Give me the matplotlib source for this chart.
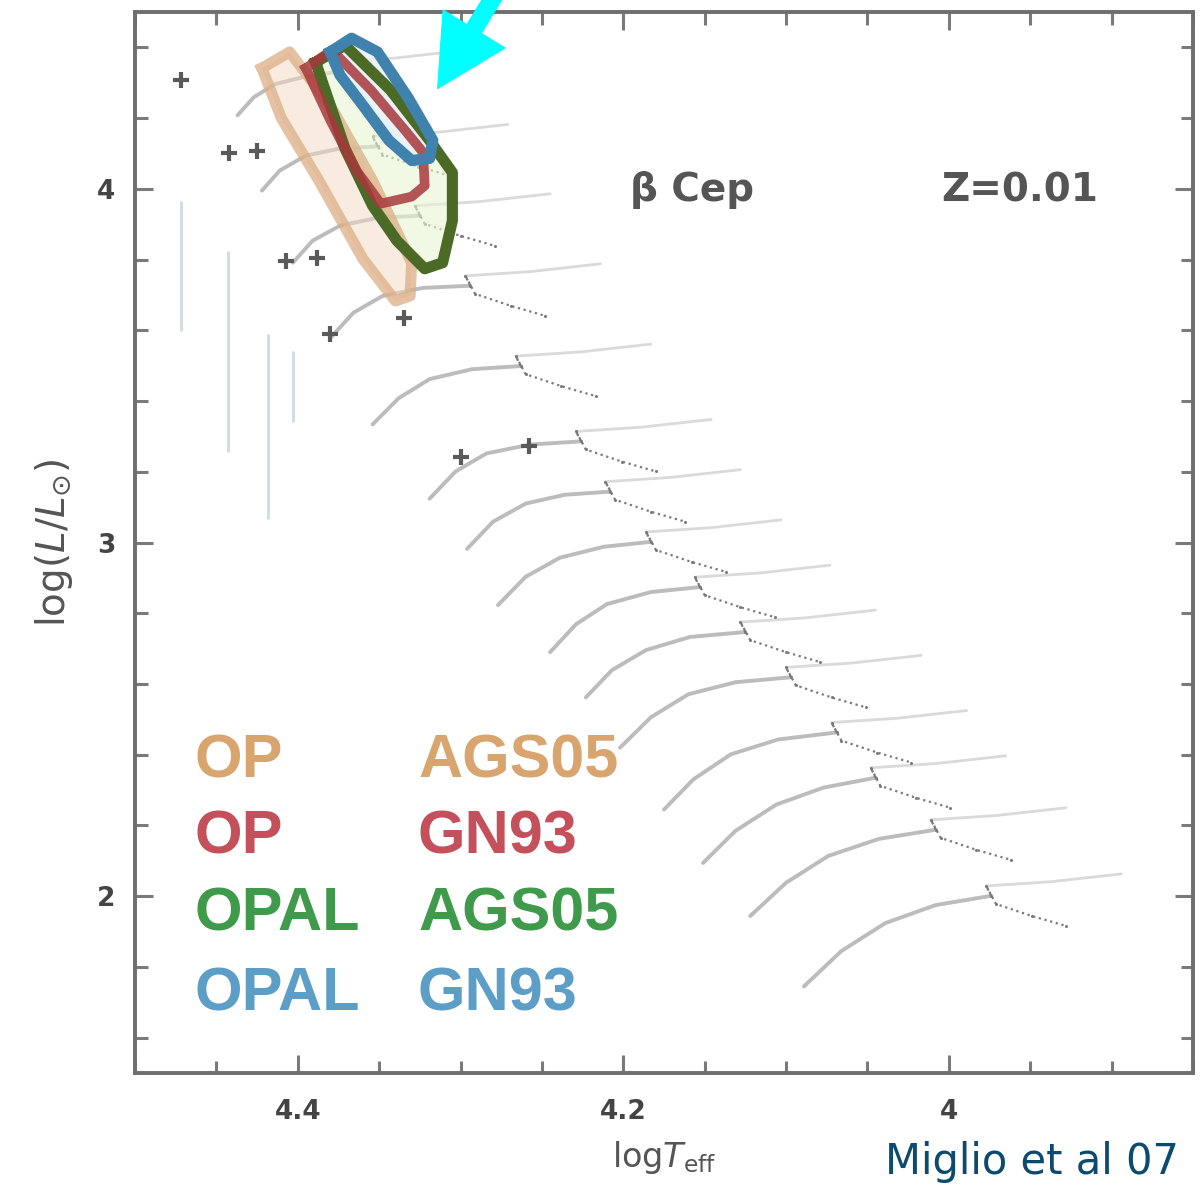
import matplotlib
matplotlib.use("Agg")
import matplotlib.pyplot as plt
from matplotlib.ticker import FixedLocator, FixedFormatter, MultipleLocator

# ---------------------------------------------------------------------------
# Evolutionary tracks (log Teff, log L/Lsun), Z = 0.01
# main-sequence part, from the ZAMS to the end of core H burning
ms_logT = [
    [4.089, 4.066, 4.039, 4.008, 3.974],
    [4.122, 4.100, 4.074, 4.043, 4.008],
    [4.151, 4.131, 4.106, 4.077, 4.045],
    [4.175, 4.157, 4.134, 4.105, 4.069],
    [4.202, 4.183, 4.160, 4.131, 4.097],
    [4.223, 4.207, 4.186, 4.159, 4.125],
    [4.245, 4.229, 4.210, 4.183, 4.153],
    [4.277, 4.260, 4.239, 4.212, 4.183],
    [4.296, 4.280, 4.260, 4.236, 4.208],
    [4.319, 4.303, 4.284, 4.257, 4.226],
    [4.354, 4.338, 4.319, 4.293, 4.263],
    [4.380, 4.366, 4.348, 4.323, 4.294],
    [4.403, 4.391, 4.374, 4.351, 4.325],
    [4.422, 4.411, 4.395, 4.374, 4.351],
    [4.437, 4.427, 4.414, 4.395, 4.377],
]
ms_logL = [
    [1.745, 1.845, 1.924, 1.975, 2.001],
    [1.944, 2.038, 2.114, 2.162, 2.188],
    [2.094, 2.185, 2.259, 2.307, 2.335],
    [2.245, 2.330, 2.401, 2.443, 2.463],
    [2.420, 2.506, 2.571, 2.605, 2.619],
    [2.562, 2.639, 2.696, 2.733, 2.747],
    [2.690, 2.769, 2.826, 2.860, 2.874],
    [2.823, 2.903, 2.957, 2.988, 3.002],
    [2.982, 3.059, 3.110, 3.135, 3.144],
    [3.124, 3.201, 3.252, 3.277, 3.286],
    [3.334, 3.408, 3.462, 3.490, 3.499],
    [3.578, 3.649, 3.697, 3.720, 3.726],
    [3.791, 3.853, 3.896, 3.918, 3.924],
    [3.995, 4.052, 4.094, 4.114, 4.120],
    [4.208, 4.259, 4.296, 4.318, 4.330],
]

# hook at the end of the main sequence (sparse model points)
hook_logT = [
    [3.974, 3.977, 3.971, 3.949, 3.928],
    [4.008, 4.011, 4.005, 3.983, 3.962],
    [4.045, 4.048, 4.042, 4.020, 3.999],
    [4.069, 4.072, 4.066, 4.044, 4.023],
    [4.097, 4.100, 4.094, 4.072, 4.051],
    [4.125, 4.128, 4.122, 4.100, 4.079],
    [4.153, 4.156, 4.150, 4.128, 4.107],
    [4.183, 4.186, 4.180, 4.158, 4.137],
    [4.208, 4.211, 4.205, 4.183, 4.162],
    [4.226, 4.229, 4.223, 4.201, 4.180],
    [4.263, 4.266, 4.260, 4.238, 4.217],
    [4.294, 4.297, 4.291, 4.269, 4.248],
    [4.325, 4.328, 4.322, 4.300, 4.279],
    [4.351, 4.354, 4.348, 4.326, 4.305],
    [4.377, 4.380, 4.374, 4.352, 4.331],
]
hook_logL = [
    [2.001, 2.029, 1.978, 1.944, 1.916],
    [2.188, 2.216, 2.165, 2.131, 2.103],
    [2.335, 2.363, 2.312, 2.278, 2.250],
    [2.463, 2.491, 2.440, 2.406, 2.378],
    [2.619, 2.647, 2.596, 2.562, 2.534],
    [2.747, 2.775, 2.724, 2.690, 2.662],
    [2.874, 2.902, 2.851, 2.817, 2.789],
    [3.002, 3.030, 2.979, 2.945, 2.917],
    [3.144, 3.172, 3.121, 3.087, 3.059],
    [3.286, 3.314, 3.263, 3.229, 3.201],
    [3.499, 3.527, 3.476, 3.442, 3.414],
    [3.726, 3.754, 3.703, 3.669, 3.641],
    [3.924, 3.952, 3.901, 3.867, 3.839],
    [4.120, 4.148, 4.097, 4.063, 4.035],
    [4.330, 4.358, 4.307, 4.273, 4.245],
]

# post-main-sequence crossing
post_logT = [
    [3.977, 3.937, 3.894],
    [4.011, 3.971, 3.928],
    [4.048, 4.008, 3.965],
    [4.072, 4.032, 3.989],
    [4.100, 4.060, 4.017],
    [4.128, 4.088, 4.045],
    [4.156, 4.116, 4.073],
    [4.186, 4.146, 4.103],
    [4.211, 4.171, 4.128],
    [4.229, 4.189, 4.146],
    [4.266, 4.226, 4.183],
    [4.297, 4.257, 4.214],
    [4.328, 4.288, 4.245],
    [4.354, 4.314, 4.271],
    [4.380, 4.340, 4.297],
]
post_logL = [
    [2.029, 2.041, 2.063],
    [2.216, 2.228, 2.250],
    [2.363, 2.375, 2.397],
    [2.491, 2.503, 2.525],
    [2.647, 2.659, 2.681],
    [2.775, 2.787, 2.809],
    [2.902, 2.914, 2.936],
    [3.030, 3.042, 3.064],
    [3.172, 3.184, 3.206],
    [3.314, 3.326, 3.348],
    [3.527, 3.539, 3.561],
    [3.754, 3.766, 3.788],
    [3.952, 3.964, 3.986],
    [4.148, 4.160, 4.182],
    [4.358, 4.370, 4.392],
]

# observed beta Cep stars
star_logT = [4.472, 4.442, 4.425, 4.407, 4.388, 4.380, 4.335, 4.300, 4.258]
star_logL = [4.307, 4.100, 4.108, 3.796, 3.805, 3.589, 3.635, 3.243, 3.272]

# luminosity uncertainty bars
bar_logT = [4.472, 4.443, 4.418, 4.403]
bar_logL_low = [3.598, 3.257, 3.067, 3.342]
bar_logL_high = [3.967, 3.825, 3.589, 3.541]

# beta Cep instability domains for the four opacity / mixture combinations
op_ags05_T = [4.422, 4.405, 4.380, 4.354, 4.330, 4.331, 4.340, 4.360, 4.387, 4.410, 4.422]
op_ags05_L = [4.341, 4.387, 4.236, 4.023, 3.791, 3.697, 3.683, 3.802, 4.023, 4.199, 4.341]
op_gn93_T = [4.395, 4.379, 4.355, 4.334, 4.323, 4.322, 4.330, 4.349, 4.364, 4.380, 4.395]
op_gn93_L = [4.341, 4.392, 4.279, 4.165, 4.103, 4.009, 3.978, 3.958, 4.052, 4.194, 4.341]
opal_ags05_T = [4.389, 4.371, 4.343, 4.319, 4.305, 4.305, 4.311, 4.322, 4.339, 4.354, 4.371, 4.389]
opal_ags05_L = [4.358, 4.406, 4.279, 4.137, 4.046, 3.910, 3.791, 3.774, 3.853, 3.952, 4.114, 4.358]
opal_gn93_T = [4.380, 4.367, 4.351, 4.332, 4.317, 4.319, 4.330, 4.344, 4.360, 4.374, 4.380]
opal_gn93_L = [4.387, 4.426, 4.387, 4.256, 4.137, 4.086, 4.080, 4.137, 4.236, 4.321, 4.387]

legend_opacity = ["OP", "OP", "OPAL", "OPAL"]
legend_mixture = ["AGS05", "GN93", "AGS05", "GN93"]
legend_colors = ["#d9a56e", "#c4505c", "#3f9a4c", "#5c9ec6"]

xtick_vals = [4.4, 4.2, 4.0]
xtick_labels = ["4.4", "4.2", "4"]
ytick_vals = [2, 3, 4]
ytick_labels = ["2", "3", "4"]

# ---------------------------------------------------------------------------
fig = plt.figure(figsize=(12.01, 11.87), dpi=100)
ax = fig.add_axes([0.1124, 0.0960, 0.8809, 0.8939])
ax.set_xlim(4.5, 3.85)
ax.set_ylim(1.5, 4.5)

# tracks
for T, L in zip(ms_logT, ms_logL):
    ax.plot(T, L, color="#bcbcbc", lw=2.8, solid_capstyle="round", zorder=2)
for T, L in zip(post_logT, post_logL):
    ax.plot(T, L, color="#dadada", lw=2.0, solid_capstyle="round", zorder=2)
for T, L in zip(hook_logT, hook_logL):
    ax.plot(T, L, color="#7a7a7a", lw=1.6, ls=":", marker="o", ms=2.2,
            mec="none", zorder=3)

# luminosity bars
ax.vlines(bar_logT, bar_logL_low, bar_logL_high, color="#d3dde8", lw=2.2, zorder=1)

# instability domains
ax.fill(op_ags05_T, op_ags05_L, color="#f3d9c0", alpha=0.5, lw=0, zorder=3)
ax.fill(opal_ags05_T, opal_ags05_L, color="#e9f6d2", alpha=0.6, lw=0, zorder=3)
ax.fill(opal_gn93_T, opal_gn93_L, color="#e8f1fa", alpha=0.8, lw=0, zorder=3)
ax.plot(op_ags05_T, op_ags05_L, color="#dcae84", lw=8, alpha=0.75,
        solid_joinstyle="round", zorder=4)
ax.plot(opal_ags05_T, opal_ags05_L, color="#4b6a25", lw=8,
        solid_joinstyle="round", zorder=5)
ax.plot(op_gn93_T, op_gn93_L, color="#a8383c", lw=7, alpha=0.85,
        solid_joinstyle="round", zorder=6)
ax.plot(opal_gn93_T, opal_gn93_L, color="#3f82ad", lw=8,
        solid_joinstyle="round", zorder=7)

# stars
ax.plot(star_logT, star_logL, ls="none", marker="+", ms=11, mew=3,
        color="#5a5a5a", zorder=8)

# labels inside the panel
ax.text(0.527, 0.832, "β Cep", transform=ax.transAxes, ha="center",
        va="center", fontsize=28, fontweight="bold", color="#555555",
        family="DejaVu Sans")
ax.text(0.836, 0.832, "Z=0.01", transform=ax.transAxes, ha="center",
        va="center", fontsize=28, fontweight="bold", color="#555555",
        family="DejaVu Sans")

row_y = [0.2931, 0.2215, 0.1489, 0.0735]
for y, op, mix, c in zip(row_y, legend_opacity, legend_mixture, legend_colors):
    ax.text(0.0567, y, op, transform=ax.transAxes, ha="left", va="center",
            fontsize=44, fontweight="bold", color=c, family="Liberation Sans")
    ax.text(0.2675, y, mix, transform=ax.transAxes, ha="left", va="center",
            fontsize=44, fontweight="bold", color=c, family="Liberation Sans")

# pointer to the instability domains
ax.annotate("", xy=(4.314, 4.284), xytext=(4.272, 4.600),
            arrowprops=dict(arrowstyle="simple,head_length=5.0,head_width=5.2,tail_width=1.2",
                            color="#00ffff", mutation_scale=10,
                            shrinkA=0, shrinkB=0),
            annotation_clip=False, zorder=10)

# axes styling
ax.xaxis.set_major_locator(FixedLocator(xtick_vals))
ax.xaxis.set_major_formatter(FixedFormatter(xtick_labels))
ax.xaxis.set_minor_locator(MultipleLocator(0.05))
ax.yaxis.set_major_locator(FixedLocator(ytick_vals))
ax.yaxis.set_major_formatter(FixedFormatter(ytick_labels))
ax.yaxis.set_minor_locator(MultipleLocator(0.2))
ax.tick_params(which="both", direction="in", top=True, right=True,
               color="#7a7a7a", width=2.2)
ax.tick_params(which="major", length=13)
ax.tick_params(which="minor", length=9)
ax.tick_params(axis="x", which="major", pad=19, labelsize=19, labelcolor="#444444")
ax.tick_params(axis="y", which="major", pad=14, labelsize=19, labelcolor="#444444")
for lab in ax.get_xticklabels() + ax.get_yticklabels():
    lab.set_fontweight("bold")
for sp in ax.spines.values():
    sp.set_color("#6e6e6e")
    sp.set_linewidth(2.8)

ax.set_xlabel(r"log$T_{\mathrm{eff}}$", fontsize=24, color="#555555", labelpad=10)
ax.set_ylabel(r"log$(L/L_{\odot})$", fontsize=28, color="#555555", labelpad=16)

fig.text(885 / 1201, 0.0034, "Miglio et al 07", ha="left", va="bottom",
         fontsize=30, color="#0c4a6e", family="DejaVu Sans")

fig.savefig("out.png", dpi=100)
